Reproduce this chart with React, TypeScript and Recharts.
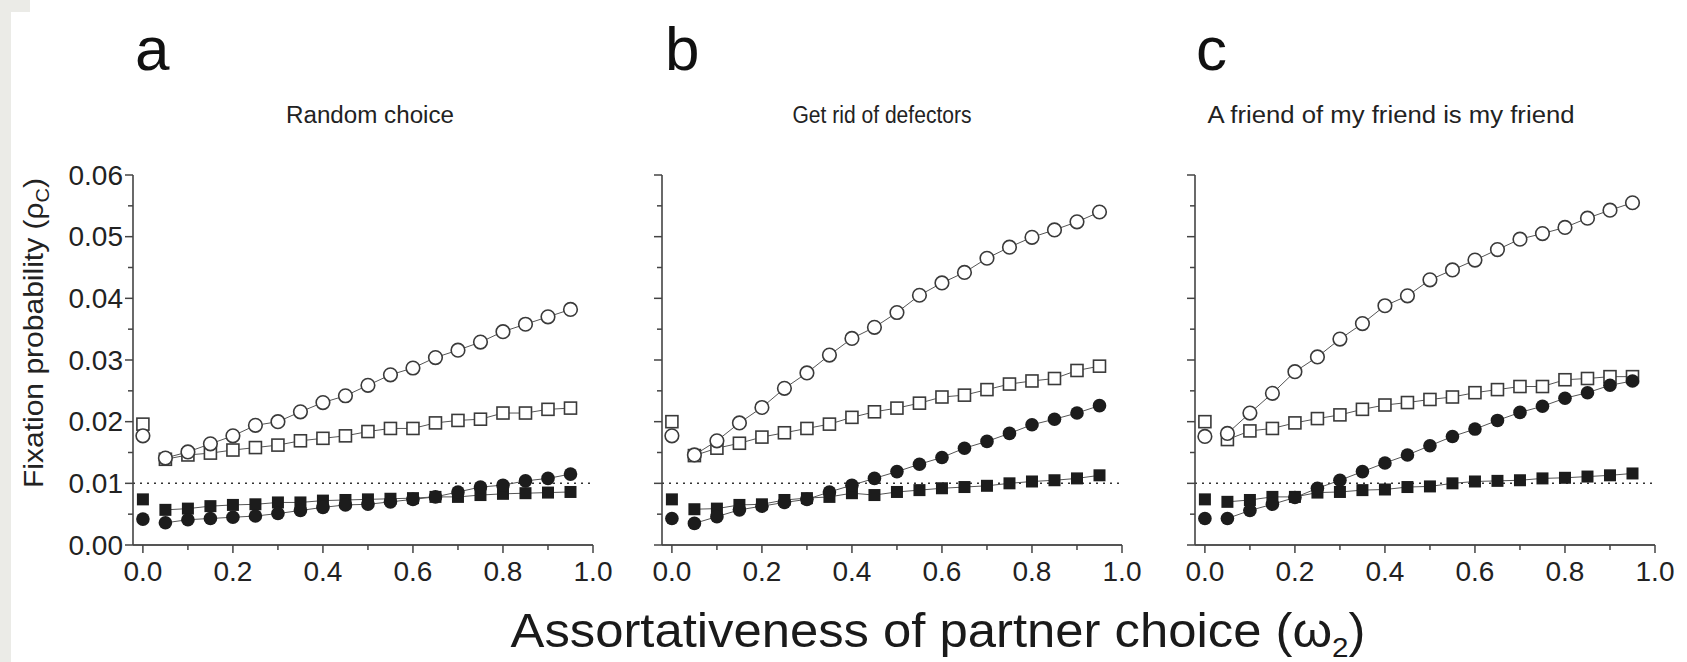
import React from 'react';
import { ScatterChart, Scatter, XAxis, YAxis, ReferenceLine } from 'recharts';

// assortativeness values of the connected runs; x = 0 is drawn separately
const omega = [0.05, 0.1, 0.15, 0.2, 0.25, 0.3, 0.35, 0.4, 0.45, 0.5, 0.55, 0.6, 0.65, 0.7, 0.75, 0.8, 0.85, 0.9, 0.95];
const xTicks = [0, 0.1, 0.2, 0.3, 0.4, 0.5, 0.6, 0.7, 0.8, 0.9, 1.0];
const yTicks = [0, 0.005, 0.01, 0.015, 0.02, 0.025, 0.03, 0.035, 0.04, 0.045, 0.05, 0.055, 0.06];

const panelLetters = ['a', 'b', 'c'];
const panelTitles = ['Random choice', 'Get rid of defectors', 'A friend of my friend is my friend'];

// values at omega = 0: open square, open circle, filled square, filled circle
const startA = [0.0196, 0.0177, 0.0074, 0.0042];
const startB = [0.02, 0.0177, 0.0074, 0.0043];
const startC = [0.02, 0.0176, 0.0074, 0.0043];

// a: random choice
const aOpenCircle = [0.0141, 0.0151, 0.0164, 0.0177, 0.0194, 0.02, 0.0216, 0.0231, 0.0242, 0.0259, 0.0276, 0.0287, 0.0304, 0.0316, 0.0329, 0.0346, 0.0358, 0.037, 0.0382];
const aOpenSquare = [0.0139, 0.0146, 0.0149, 0.0154, 0.0158, 0.0162, 0.0169, 0.0173, 0.0177, 0.0184, 0.0189, 0.0189, 0.0198, 0.0202, 0.0204, 0.0214, 0.0214, 0.022, 0.0222];
const aFilledSquare = [0.0057, 0.0059, 0.0063, 0.0065, 0.0066, 0.0069, 0.0069, 0.0072, 0.0073, 0.0074, 0.0075, 0.0076, 0.0078, 0.0078, 0.0081, 0.0083, 0.0084, 0.0085, 0.0086];
const aFilledCircle = [0.0036, 0.0041, 0.0043, 0.0045, 0.0047, 0.0051, 0.0056, 0.0061, 0.0065, 0.0066, 0.007, 0.0074, 0.0078, 0.0086, 0.0094, 0.0097, 0.0104, 0.0108, 0.0115];

// b: get rid of defectors
const bOpenCircle = [0.0146, 0.0169, 0.0198, 0.0223, 0.0254, 0.0279, 0.0308, 0.0335, 0.0353, 0.0377, 0.0405, 0.0425, 0.0442, 0.0465, 0.0483, 0.0499, 0.0511, 0.0524, 0.054];
const bOpenSquare = [0.0145, 0.0157, 0.0165, 0.0175, 0.0182, 0.0189, 0.0196, 0.0207, 0.0216, 0.0222, 0.023, 0.024, 0.0243, 0.0252, 0.0261, 0.0266, 0.027, 0.0283, 0.029];
const bFilledSquare = [0.0058, 0.0059, 0.0065, 0.0066, 0.0073, 0.0076, 0.0078, 0.0084, 0.0081, 0.0086, 0.0089, 0.0092, 0.0094, 0.0096, 0.01, 0.0103, 0.0105, 0.0108, 0.0113];
const bFilledCircle = [0.0035, 0.0046, 0.0057, 0.0063, 0.0069, 0.0074, 0.0086, 0.0097, 0.0108, 0.0119, 0.0131, 0.0142, 0.0157, 0.0168, 0.0181, 0.0195, 0.0204, 0.0214, 0.0226];

// c: a friend of my friend is my friend
const cOpenCircle = [0.0181, 0.0214, 0.0246, 0.0281, 0.0305, 0.0334, 0.0359, 0.0388, 0.0404, 0.043, 0.0446, 0.0462, 0.0479, 0.0496, 0.0505, 0.0515, 0.053, 0.0543, 0.0555];
const cOpenSquare = [0.0171, 0.0185, 0.0189, 0.0198, 0.0205, 0.0211, 0.022, 0.0227, 0.0231, 0.0236, 0.024, 0.0247, 0.0252, 0.0257, 0.0257, 0.0268, 0.027, 0.0273, 0.0273];
const cFilledSquare = [0.007, 0.0073, 0.0078, 0.0078, 0.0085, 0.0086, 0.0089, 0.009, 0.0094, 0.0095, 0.01, 0.0103, 0.0104, 0.0105, 0.0108, 0.0109, 0.0111, 0.0113, 0.0116];
const cFilledCircle = [0.0043, 0.0056, 0.0066, 0.0077, 0.0092, 0.0105, 0.0119, 0.0133, 0.0146, 0.0161, 0.0176, 0.0188, 0.0202, 0.0215, 0.0225, 0.0238, 0.0247, 0.0259, 0.0266];

const ink = '#1c1c1c';
const toPts = (ys: number[]) => omega.map((x, i) => ({ x, y: ys[i] }));
const isMultiple = (v: number, step: number) => Math.abs(v / step - Math.round(v / step)) < 1e-6;

const OpenCircle = (p: any) => <circle cx={p.cx} cy={p.cy} r={6.8} fill="#fff" stroke="#3a3a3a" strokeWidth={1.6} />;
const OpenSquare = (p: any) => <rect x={p.cx - 6} y={p.cy - 6} width={12} height={12} fill="#fff" stroke="#3a3a3a" strokeWidth={1.6} />;
const FilledCircle = (p: any) => <circle cx={p.cx} cy={p.cy} r={6.8} fill={ink} />;
const FilledSquare = (p: any) => <rect x={p.cx - 6} y={p.cy - 6} width={12} height={12} fill={ink} />;

const YTick = (props: any) => {
  const { x, y, payload, showLabel } = props;
  const major = isMultiple(payload.value, 0.01);
  return (
    <g>
      <line x1={x - (major ? 8 : 5)} x2={x} y1={y} y2={y} stroke="#444" strokeWidth={1.5} />
      {major && showLabel && (
        <text x={x - 10} y={y} textAnchor="end" dominantBaseline="central" fontSize={28} fill="#222">
          {payload.value.toFixed(2)}
        </text>
      )}
    </g>
  );
};

const XTick = (props: any) => {
  const { x, y, payload } = props;
  const major = isMultiple(payload.value, 0.2);
  return (
    <g>
      <line x1={x} x2={x} y1={y} y2={y + (major ? 8 : 5)} stroke="#444" strokeWidth={1.5} />
      {major && (
        <text x={x} y={y + 26} textAnchor="middle" dominantBaseline="central" fontSize={28} fill="#222">
          {payload.value.toFixed(1)}
        </text>
      )}
    </g>
  );
};

interface PanelProps {
  left: number;
  axisWidth: number;
  start: number[];
  openCircle: number[];
  openSquare: number[];
  filledCircle: number[];
  filledSquare: number[];
  showYLabels: boolean;
}

const Panel: React.FC<PanelProps> = ({ left, axisWidth, start, openCircle, openSquare, filledCircle, filledSquare, showYLabels }) => {
  const lineStyle = { stroke: '#555', strokeWidth: 1 };
  return (
    <div style={{ position: 'absolute', left, top: 0 }}>
      <ScatterChart width={axisWidth + 487} height={662} margin={{ top: 175, right: 27, left: 0, bottom: 77 }}>
        <XAxis
          type="number"
          dataKey="x"
          domain={[-0.022, 1]}
          ticks={xTicks}
          interval={0}
          allowDataOverflow
          tickSize={0}
          tickMargin={0}
          tickLine={false}
          height={40}
          axisLine={{ stroke: '#555', strokeWidth: 2.2 }}
          tick={<XTick />}
        />
        <YAxis
          type="number"
          dataKey="y"
          domain={[0, 0.06]}
          ticks={yTicks}
          interval={0}
          tickSize={0}
          tickMargin={0}
          tickLine={false}
          width={axisWidth}
          axisLine={{ stroke: '#444', strokeWidth: 1.6 }}
          tick={<YTick showLabel={showYLabels} />}
        />
        <ReferenceLine y={0.01} stroke="#333" strokeWidth={1.5} strokeDasharray="2 5" ifOverflow="visible" />
        <Scatter data={toPts(openSquare)} shape={OpenSquare} line={lineStyle} lineType="joint" isAnimationActive={false} />
        <Scatter data={toPts(openCircle)} shape={OpenCircle} line={lineStyle} lineType="joint" isAnimationActive={false} />
        <Scatter data={toPts(filledSquare)} shape={FilledSquare} line={lineStyle} lineType="joint" isAnimationActive={false} />
        <Scatter data={toPts(filledCircle)} shape={FilledCircle} line={lineStyle} lineType="joint" isAnimationActive={false} />
        <Scatter data={[{ x: 0, y: start[0] }]} shape={OpenSquare} isAnimationActive={false} />
        <Scatter data={[{ x: 0, y: start[1] }]} shape={OpenCircle} isAnimationActive={false} />
        <Scatter data={[{ x: 0, y: start[2] }]} shape={FilledSquare} isAnimationActive={false} />
        <Scatter data={[{ x: 0, y: start[3] }]} shape={FilledCircle} isAnimationActive={false} />
      </ScatterChart>
    </div>
  );
};

export default function App() {
  const letterX = [135, 665, 1196];
  const titleX = [370, 882, 1391];
  const titleW = [168, 179, 367];
  return (
    <div style={{ position: 'absolute', left: 0, top: 0, width: 1687, height: 662, background: '#fff', fontFamily: '"Liberation Sans", Arial, sans-serif', overflow: 'hidden' }}>
      <div style={{ position: 'absolute', left: 0, top: 0, width: 11, height: 662, background: '#ebebe7' }} />
      <div style={{ position: 'absolute', left: 0, top: 0, width: 30, height: 12, background: '#ebebe7' }} />
      <Panel left={0} axisWidth={133} start={startA} openCircle={aOpenCircle} openSquare={aOpenSquare} filledCircle={aFilledCircle} filledSquare={aFilledSquare} showYLabels />
      <Panel left={600} axisWidth={62} start={startB} openCircle={bOpenCircle} openSquare={bOpenSquare} filledCircle={bFilledCircle} filledSquare={bFilledSquare} showYLabels={false} />
      <Panel left={1133} axisWidth={62} start={startC} openCircle={cOpenCircle} openSquare={cOpenSquare} filledCircle={cFilledCircle} filledSquare={cFilledSquare} showYLabels={false} />
      <svg width={1687} height={662} style={{ position: 'absolute', left: 0, top: 0, pointerEvents: 'none' }}>
        {panelLetters.map((l, i) => (
          <text key={l} x={letterX[i]} y={70} fontSize={62} fill="#111">{l}</text>
        ))}
        {panelTitles.map((t, i) => (
          <text key={t} x={titleX[i]} y={123} fontSize={23} textAnchor="middle" fill="#222" textLength={titleW[i]} lengthAdjust="spacingAndGlyphs">{t}</text>
        ))}
        <text x={0} y={0} fontSize={27} fill="#222" textAnchor="middle" transform="translate(43 333) rotate(-90)" textLength={310} lengthAdjust="spacingAndGlyphs">
          Fixation probability (ρ<tspan fontSize={18} dy={6}>C</tspan><tspan dy={-6}>)</tspan>
        </text>
        <text x={938} y={647} fontSize={48} fill="#1a1a1a" textAnchor="middle" textLength={855} lengthAdjust="spacingAndGlyphs">
          Assortativeness of partner choice (ω<tspan fontSize={28} dy={10}>2</tspan><tspan dy={-10}>)</tspan>
        </text>
      </svg>
    </div>
  );
}
